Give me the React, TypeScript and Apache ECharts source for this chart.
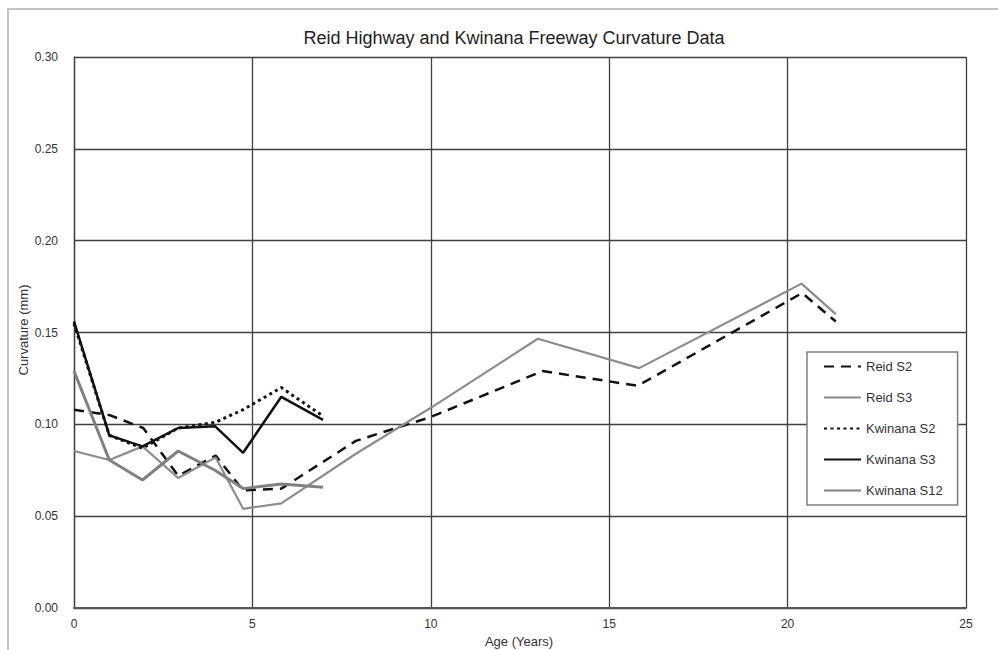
import React, { useEffect, useRef } from "react";
import * as echarts from "echarts";

const FONT = "'Liberation Sans', Arial, sans-serif";

const chartTitle = "Reid Highway and Kwinana Freeway Curvature Data";
const xAxisTitle = "Age (Years)";
const yAxisTitle = "Curvature (mm)";
const seriesNames = ["Reid S2", "Reid S3", "Kwinana S2", "Kwinana S3", "Kwinana S12"];

const reidS2Age = [0, 1, 1.94, 2.92, 3.97, 4.74, 5.81, 7.9, 10.0, 13.13, 15.8, 20.41, 21.35];
const reidS2Curv = [0.108, 0.105, 0.098, 0.072, 0.083, 0.064, 0.065, 0.091, 0.104, 0.129, 0.121, 0.1715, 0.156];

const reidS3Age = [0, 0.99, 1.92, 2.92, 3.97, 4.74, 5.81, 7.9, 10.0, 13.0, 15.84, 20.39, 21.35];
const reidS3Curv = [0.0855, 0.0806, 0.088, 0.0708, 0.082, 0.054, 0.057, 0.084, 0.109, 0.1466, 0.1306, 0.1766, 0.16];

const kwinanaAge = [0, 0.99, 1.92, 2.92, 3.95, 4.74, 5.81, 6.98];
const kwinanaS2Curv = [0.155, 0.094, 0.087, 0.098, 0.101, 0.108, 0.12, 0.1045];
const kwinanaS3Curv = [0.156, 0.094, 0.088, 0.098, 0.099, 0.0845, 0.115, 0.1024];
const kwinanaS12Curv = [0.129, 0.0806, 0.0697, 0.0855, 0.075, 0.065, 0.0675, 0.0657];

const pairs = (xs: number[], ys: number[]) => xs.map((x, i) => [x, ys[i]]);

export default function App() {
  const ref = useRef<HTMLDivElement>(null);
  useEffect(() => {
    if (!ref.current) return;
    const chart = echarts.init(ref.current, null, { renderer: "svg" });
    const gridColor = "#404040";
    const mk = (name: string, data: number[][], color: string, width: number, type: any) => ({
      name,
      type: "line",
      data,
      symbol: "none",
      showSymbol: false,
      lineStyle: { color, width, type },
      itemStyle: { color },
    });
    chart.setOption({
      animation: false,
      backgroundColor: "#ffffff",
      title: {
        text: chartTitle,
        left: 509,
        top: 24,
        textAlign: "center",
        textStyle: { fontFamily: FONT, fontSize: 18, fontWeight: "normal", color: "#222" },
      },
      grid: { left: 74, right: 32, top: 57, bottom: 42, containLabel: false },
      xAxis: {
        type: "value",
        min: 0,
        max: 25,
        interval: 5,
        axisLine: { show: true, lineStyle: { color: "#555", width: 2 } },
        axisTick: { show: false },
        axisLabel: { margin: 10, fontFamily: FONT, fontSize: 12, color: "#333" },
        splitLine: { show: true, lineStyle: { color: gridColor, width: 1.3 } },
      },
      yAxis: {
        type: "value",
        min: 0,
        max: 0.3,
        interval: 0.05,
        axisLine: { show: true, lineStyle: { color: gridColor, width: 1.3 } },
        axisTick: { show: false },
        axisLabel: {
          margin: 16,
          fontFamily: FONT,
          fontSize: 12,
          color: "#333",
          formatter: (v: number) => v.toFixed(2),
        },
        splitLine: { show: true, lineStyle: { color: gridColor, width: 1.3 } },
      },
      legend: {
        orient: "vertical",
        left: 807,
        top: 352,
        padding: [8, 15, 8, 16],
        itemWidth: 37,
        itemHeight: 14,
        itemGap: 18,
        backgroundColor: "#ffffff",
        borderColor: "#7f7f7f",
        borderWidth: 1.5,
        borderRadius: 0,
        data: seriesNames,
        itemStyle: { opacity: 0 },
        textStyle: { fontFamily: FONT, fontSize: 13, color: "#333" },
      },
      graphic: [
        {
          type: "rect",
          shape: { x: 8, y: 9, width: 1010, height: 700 },
          style: { fill: "none", stroke: "#c4c4c4", lineWidth: 2 },
          silent: true,
          z: -10,
        },
        {
          type: "text",
          x: 519,
          y: 641,
          style: {
            text: xAxisTitle,
            align: "center",
            verticalAlign: "middle",
            fontFamily: FONT,
            fontSize: 13,
            fill: "#333",
          },
        },
        {
          type: "text",
          x: 23,
          y: 330,
          rotation: Math.PI / 2,
          style: {
            text: yAxisTitle,
            align: "center",
            verticalAlign: "middle",
            fontFamily: FONT,
            fontSize: 13,
            fill: "#333",
          },
        },
      ],
      series: [
        mk(seriesNames[0], pairs(reidS2Age, reidS2Curv), "#111", 2.5, [10, 7]),
        mk(seriesNames[1], pairs(reidS3Age, reidS3Curv), "#8c8c8c", 2.2, "solid"),
        mk(seriesNames[2], pairs(kwinanaAge, kwinanaS2Curv), "#111", 3, [3, 3.5]),
        mk(seriesNames[3], pairs(kwinanaAge, kwinanaS3Curv), "#111", 2.5, "solid"),
        mk(seriesNames[4], pairs(kwinanaAge, kwinanaS12Curv), "#808080", 3, "solid"),
      ],
    });
    return () => chart.dispose();
  }, []);
  return (
    <div
      ref={ref}
      style={{ position: "fixed", left: 0, top: 0, width: 998, height: 650, background: "#fff" }}
    />
  );
}
